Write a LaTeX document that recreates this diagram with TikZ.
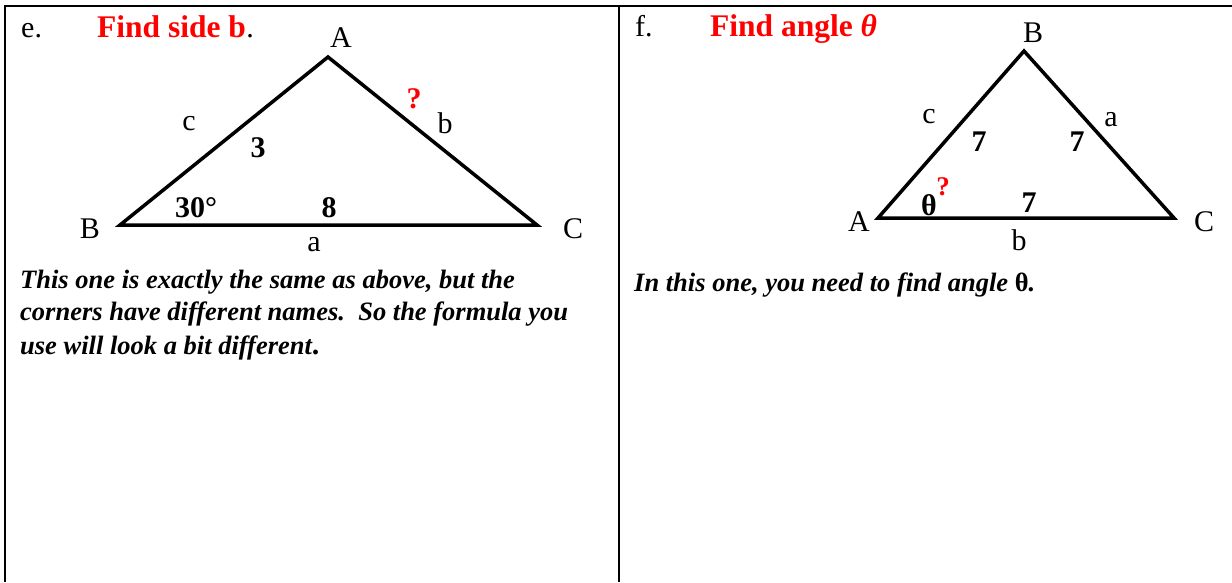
\documentclass[tikz,border=0pt]{standalone}
\usepackage{fontspec}
\setmainfont{Liberation Serif}
\begin{document}
\begin{tikzpicture}[x=1pt,y=-1pt,
  lbl/.style={font=\fontsize{30}{36}\selectfont, inner sep=0pt},
  num/.style={font=\fontsize{30}{36}\selectfont\bfseries, inner sep=0pt},
  qm/.style={font=\fontsize{30}{34}\selectfont\bfseries, text=red, inner sep=0pt},
  title/.style={font=\fontsize{31.5}{36}\selectfont\bfseries, text=red, inner sep=0pt, anchor=base west},
  plain/.style={font=\fontsize{30}{36}\selectfont, inner sep=0pt, anchor=base west},
  body/.style={font=\fontsize{26.5}{33}\selectfont\bfseries\itshape, inner sep=0pt, anchor=base west},
  tri/.style={line width=3.5pt, line join=miter},
  frame/.style={line width=2pt}]
\useasboundingbox (0,0) rectangle (1232,582);
% frame
\coordinate (fTL) at (5,6);
\coordinate (fTR) at (1232,6);
\coordinate (fBL) at (5,582);
\coordinate (fTM) at (619,6);
\coordinate (fBM) at (619,582);
\draw[frame] (fBL) -- (fTL) -- (fTR);
\draw[frame] (fTM) -- (fBM);

% ---------- left panel ----------
\node[plain] (eLab) at (21,37) {e.};
\node[title] (eTitle) at (97,37) {Find side b};
\node[plain] (eDot) at (eTitle.base east) {.};

\coordinate (lB) at (120,225);
\coordinate (lA) at (328,57);
\coordinate (lC) at (537,225);
\draw[tri] (lB) -- (lA) -- (lC) -- cycle;

\node[lbl] (lAlab) at (341,38) {A};
\node[lbl] (lBlab) at (90,229) {B};
\node[lbl] (lClab) at (573,229) {C};
\node[lbl] (lc) at (189,124) {c};
\node[lbl] (lb) at (445,123) {b};
\node[lbl] (la) at (314,245) {a};
\node[num] (l3) at (258,148) {3};
\node[num] (l30) at (196,208) {30°};
\node[num] (l8) at (329,208) {8};
\node[qm] (lq) at (414,99) {?};

\node[body] (lt1) at (20,288) {This one is exactly the same as above, but the};
\node[body] (lt2) at (20,320) {corners have different names.\ \ So the formula you};
\node[body] (lt3) at (20,354) {use will look a bit different{\upshape\fontsize{30}{33}\selectfont .}};

% ---------- right panel ----------
\node[plain] (fLab) at (635,36) {f.};
\node[title] (fTitle) at (710,36) {Find angle \textit{θ}};

\coordinate (rA) at (878,218);
\coordinate (rB) at (1024,51);
\coordinate (rC) at (1174,218);
\draw[tri] (rA) -- (rB) -- (rC) -- cycle;

\node[lbl] (rBlab) at (1033,33) {B};
\node[lbl] (rAlab) at (859,222) {A};
\node[lbl] (rClab) at (1204,222) {C};
\node[lbl] (rc) at (929,117) {c};
\node[lbl] (ra) at (1111,120) {a};
\node[lbl] (rb) at (1019,240) {b};
\node[num] (r7a) at (979,142) {7};
\node[num] (r7b) at (1077,142) {7};
\node[num] (r7c) at (1029,203) {7};
\node[num] (rth) at (929,205) {θ};
\node[qm, font=\fontsize{27}{30}\selectfont\bfseries] (rq) at (943,187) {?};

\node[body] (rt1) at (634,291) {In this one, you need to find angle \textup{θ}.};
\end{tikzpicture}
\end{document}
